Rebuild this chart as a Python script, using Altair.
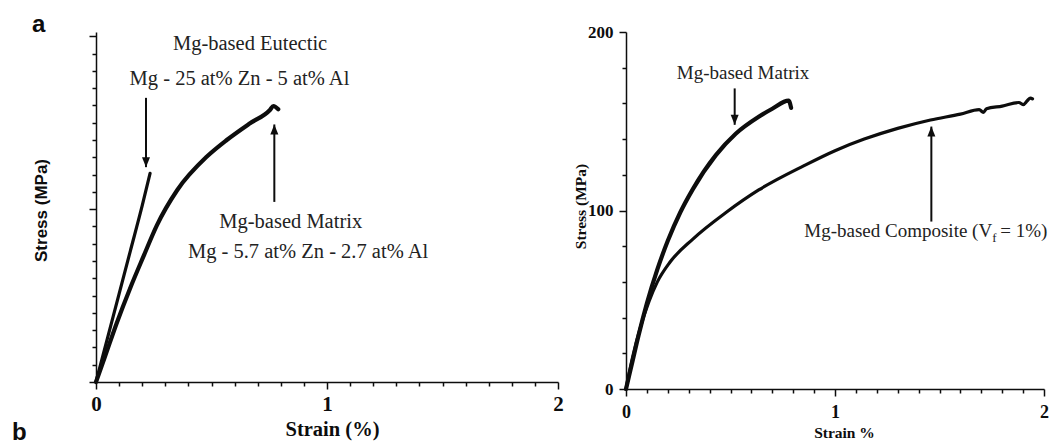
import altair as alt
import pandas as pd

# ---------------- data ----------------
# panel a
a_eut_strain = [0, 0.05, 0.10, 0.15, 0.20, 0.234]
a_eut_stress = [0, 25.5, 51, 76.5, 102, 120.7]
a_mat_strain = [0, 0.039, 0.0895, 0.147, 0.205, 0.263, 0.352, 0.479, 0.566, 0.667, 0.753, 0.768, 0.789]
a_mat_stress = [0, 14.7, 34, 54, 72.5, 90.5, 111.1, 130.3, 140, 149.7, 157.4, 159.7, 157.8]

# panel b
b_mat_strain = [0, 0.03, 0.06, 0.10, 0.15, 0.20, 0.26, 0.32, 0.43, 0.525, 0.635, 0.70, 0.778, 0.79]
b_mat_stress = [0, 15, 30, 48, 67, 83, 99, 112, 131, 143, 152.5, 157, 161.5, 157.5]
b_comp_strain = [0, 0.03, 0.07, 0.11, 0.15, 0.21, 0.32, 0.48, 0.635, 0.85, 1.0, 1.14, 1.30,
                 1.457, 1.60, 1.69, 1.71, 1.725, 1.80, 1.88, 1.90, 1.92, 1.935, 1.945]
b_comp_stress = [0, 17, 35, 49, 60, 71, 84, 99, 111.5, 125, 133.5, 140, 146,
                 150.7, 154, 156.5, 155, 157, 158.5, 160.5, 159.3, 161.5, 163, 162.5]

# arrows: x, tail stress, tip stress
a_arrow_x = [0.2165, 0.772]
a_arrow_tail = [164.4, 104.2]
a_arrow_tip = [124.3, 149.0]
b_arrow_x = [0.52, 1.461]
b_arrow_tail = [168.4, 93.8]
b_arrow_tip = [148.0, 147.0]

# annotation texts
a_labels = ["Mg-based Eutectic", "Mg - 25 at% Zn - 5 at% Al",
            "Mg-based Matrix", "Mg - 5.7 at% Zn - 2.7 at% Al"]
a_label_x = [0.667, 0.621, 0.843, 0.918]
a_label_y = [192, 172, 89, 71.7]
b_matrix_label = "Mg-based Matrix"
b_matrix_label_xy = (0.56, 173.4)
b_comp_label = ["Mg-based Composite (V", "f", "= 1%)"]
b_comp_label_xy = (1.752, 85.2)

x_ticks = [round(i * 0.1, 1) for i in range(21)]
a_y_ticks = list(range(0, 201, 10))
b_y_ticks = list(range(0, 201, 20))

SERIF = "Liberation Serif"
SANS = "Liberation Sans"
INK = "#0d0d0d"

IS_INT = "abs(datum.value - round(datum.value)) < 1e-6"
IS_100 = "datum.value % 100 === 0"

DOWN_HEAD = "M0,0L-0.8,-2L0.8,-2Z"
UP_HEAD = "M0,0L-0.8,2L0.8,2Z"


def curve_df(xs, ys):
    return pd.DataFrame({"strain": xs, "stress": ys, "i": range(len(xs))})


def arrow_df(xs, tails, tips):
    return pd.DataFrame({"strain": xs, "tail": tails, "tip": tips,
                         "up": [tp > tl for tp, tl in zip(tips, tails)]})


def build_panel(curves, arrows, texts, xscale, yscale, xaxis, yaxis):
    X = lambda f="strain": alt.X(f"{f}:Q", scale=xscale, axis=xaxis)
    Y = lambda f="stress": alt.Y(f"{f}:Q", scale=yscale, axis=yaxis)
    layers = []
    for df, sw in curves:
        layers.append(alt.Chart(df).mark_line(
            color=INK, strokeWidth=sw, strokeCap="round", strokeJoin="round",
            interpolate="monotone").encode(x=X(), y=Y(), order="i:Q"))
    layers.append(alt.Chart(arrows).mark_rule(color=INK, strokeWidth=2).encode(
        x=X(), y=Y("tail"), y2="tip:Q"))
    layers.append(alt.Chart(arrows).transform_filter("!datum.up").mark_point(
        shape=DOWN_HEAD, filled=True, size=100, color=INK, opacity=1, strokeWidth=0).encode(
        x=X(), y=Y("tip")))
    layers.append(alt.Chart(arrows).transform_filter("datum.up").mark_point(
        shape=UP_HEAD, filled=True, size=100, color=INK, opacity=1, strokeWidth=0).encode(
        x=X(), y=Y("tip")))
    for df, props in texts:
        layers.append(alt.Chart(df).mark_text(**props).encode(x=X(), y=Y(), text="t:N"))
    return layers


# ---------------- panel a ----------------
a_x = alt.Scale(domain=[0, 2], nice=False, zero=False)
a_y = alt.Scale(domain=[0, 202.5], nice=False, zero=False)
a_xaxis = alt.Axis(values=x_ticks, title="Strain (%)", labelExpr=f"{IS_INT} ? format(datum.value, 'd') : ''",
                   tickSize={"condition": {"test": IS_INT, "value": 7}, "value": 4},
                   labelFont=SERIF, labelFontWeight="bold", labelFontSize=21, labelColor=INK,
                   labelPadding=4, labelOverlap=False, labelFlush=False,
                   titleFont=SERIF, titleFontWeight="bold", titleFontSize=20.5, titleColor=INK,
                   titleX=236, titleY=53, titleBaseline="alphabetic", titleAlign="center",
                   domainColor=INK, domainWidth=1.5, tickColor=INK, tickWidth=1.5, grid=False)
a_yaxis = alt.Axis(values=a_y_ticks, title="Stress (MPa)", labels=False,
                   tickSize={"condition": {"test": IS_100, "value": 7}, "value": 4},
                   titleFont=SANS, titleFontWeight="bold", titleFontSize=17, titleColor=INK,
                   titleX=-55, titleY=178, titleAngle=-90, titleAlign="center", titleBaseline="middle",
                   domainColor=INK, domainWidth=1.5, tickColor=INK, tickWidth=1.5, grid=False)

a_text_df = pd.DataFrame({"strain": a_label_x, "stress": a_label_y, "t": a_labels})
a_layers = build_panel(
    [(curve_df(a_eut_strain, a_eut_stress), 3.2), (curve_df(a_mat_strain, a_mat_stress), 4.2)],
    arrow_df(a_arrow_x, a_arrow_tail, a_arrow_tip),
    [(a_text_df, dict(font=SERIF, fontSize=20.5, color="#222", align="center", baseline="alphabetic"))],
    a_x, a_y, a_xaxis, a_yaxis)

a_letter = alt.Chart(pd.DataFrame({"t": ["a"]})).mark_text(
    font=SANS, fontWeight="bold", fontSize=24, color=INK, align="left", baseline="alphabetic").encode(
    x=alt.value(-64), y=alt.value(0), text="t:N")
b_letter = alt.Chart(pd.DataFrame({"t": ["b"]})).mark_text(
    font=SANS, fontWeight="bold", fontSize=24, color=INK, align="left", baseline="bottom").encode(
    x=alt.value(-84), y=alt.value(413), text="t:N")

left = alt.layer(*a_layers, a_letter, b_letter).properties(width=462, height=350)

# ---------------- panel b ----------------
b_x = alt.Scale(domain=[0, 2], nice=False, zero=False)
b_y = alt.Scale(domain=[0, 200], nice=False, zero=False)
b_xaxis = alt.Axis(values=x_ticks, title="Strain %", labelExpr=f"{IS_INT} ? format(datum.value, 'd') : ''",
                   tickSize={"condition": {"test": IS_INT, "value": 7}, "value": 4},
                   labelFont=SERIF, labelFontWeight="bold", labelFontSize=18, labelColor=INK,
                   labelPadding=7, labelOverlap=False, labelFlush=False,
                   titleFont=SERIF, titleFontWeight="bold", titleFontSize=15.5, titleColor=INK,
                   titleX=218, titleY=48, titleBaseline="alphabetic", titleAlign="center",
                   domainColor=INK, domainWidth=1.5, tickColor=INK, tickWidth=1.5, grid=False)
b_yaxis = alt.Axis(values=b_y_ticks, title="Stress (MPa)", labelExpr=f"{IS_100} ? datum.label : ''",
                   tickSize={"condition": {"test": IS_100, "value": 7}, "value": 4},
                   labelFont=SERIF, labelFontWeight="bold", labelFontSize=17, labelColor=INK,
                   labelPadding=6, labelOverlap=False, labelFlush=False,
                   titleFont=SERIF, titleFontWeight="bold", titleFontSize=15.5, titleColor=INK,
                   titleX=-46, titleY=174, titleAngle=-90, titleAlign="center", titleBaseline="middle",
                   domainColor=INK, domainWidth=1.5, tickColor=INK, tickWidth=1.5, grid=False)

bx, by = b_comp_label_xy
comp_df = pd.DataFrame({"strain": [bx], "stress": [by]})
b_text_layers = [
    (pd.DataFrame({"strain": [b_matrix_label_xy[0]], "stress": [b_matrix_label_xy[1]], "t": [b_matrix_label]}),
     dict(font=SERIF, fontSize=19, color="#222", align="center", baseline="alphabetic")),
    (comp_df.assign(t=[b_comp_label[0]]),
     dict(font=SERIF, fontSize=19, color="#222", align="right", baseline="alphabetic")),
    (comp_df.assign(t=[b_comp_label[1]]),
     dict(font=SERIF, fontSize=13, color="#222", align="left", baseline="alphabetic", dx=0, dy=5)),
    (comp_df.assign(t=[b_comp_label[2]]),
     dict(font=SERIF, fontSize=19, color="#222", align="left", baseline="alphabetic", dx=8)),
]
b_layers = build_panel(
    [(curve_df(b_mat_strain, b_mat_stress), 4.2), (curve_df(b_comp_strain, b_comp_stress), 3.2)],
    arrow_df(b_arrow_x, b_arrow_tail, b_arrow_tip), b_text_layers,
    b_x, b_y, b_xaxis, b_yaxis)

right = alt.layer(*b_layers).properties(width=418, height=357)

chart = alt.hconcat(left, right, spacing=68, bounds="flush").properties(
    padding={"left": 12, "top": 13, "right": 0, "bottom": 0},
    background="white",
).configure_view(stroke=None).configure_axis(
    labelFont=SERIF, titleFont=SERIF
)

chart.save("out.html", embed_options={"renderer": "svg", "actions": False})
